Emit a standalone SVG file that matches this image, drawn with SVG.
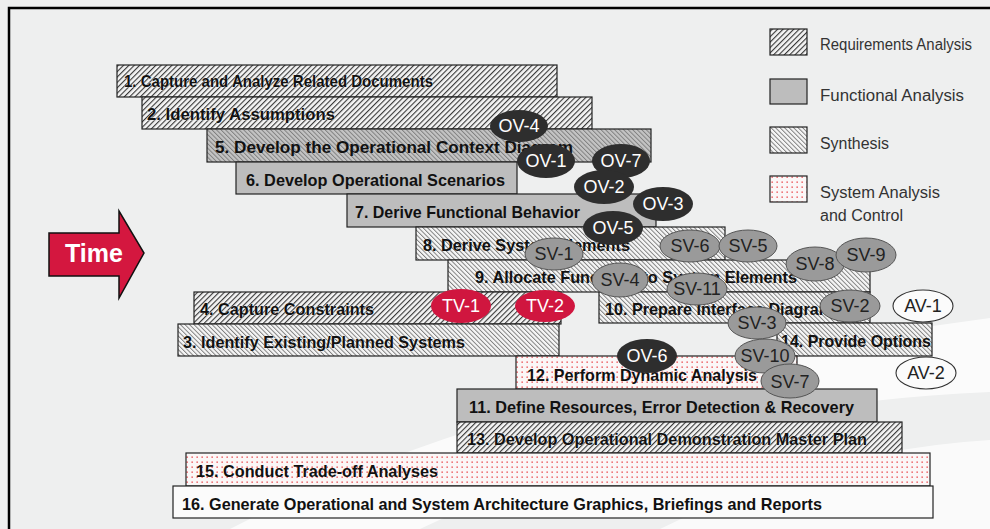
<svg xmlns="http://www.w3.org/2000/svg" width="990" height="529" viewBox="0 0 990 529">
  <defs>
    <!-- Requirements Analysis: dense forward hatch -->
    <pattern id="reqHatch" width="3.8" height="3.8" patternUnits="userSpaceOnUse" patternTransform="rotate(45)">
      <rect width="3.8" height="3.8" fill="#f4f4f4"/>
      <line x1="0.6" y1="0" x2="0.6" y2="3.8" stroke="#222" stroke-width="1"/>
    </pattern>
    <!-- Synthesis: light back hatch -->
    <pattern id="synHatch" width="3.2" height="3.2" patternUnits="userSpaceOnUse" patternTransform="rotate(-45)">
      <rect width="3.2" height="3.2" fill="#f6f6f6"/>
      <line x1="0.5" y1="0" x2="0.5" y2="3.2" stroke="#707070" stroke-width="0.85"/>
    </pattern>
    <!-- Synthesis hatch on a grey ground -->
    <pattern id="synGrey" width="3.2" height="3.2" patternUnits="userSpaceOnUse" patternTransform="rotate(-45)">
      <rect width="3.2" height="3.2" fill="#c4c4c4"/>
      <line x1="0.5" y1="0" x2="0.5" y2="3.2" stroke="#7a7a7a" stroke-width="0.9"/>
    </pattern>
    <!-- System Analysis and Control: red dots -->
    <pattern id="redDots" width="5" height="5" patternUnits="userSpaceOnUse">
      <rect width="5" height="5" fill="#fbf7f7"/>
      <rect x="1.5" y="1.5" width="1.3" height="1.3" fill="#e8343a"/>
    </pattern>
  </defs>

  <style>
    .bar { stroke: #222; stroke-width: 1.2; }
    .req { fill: url(#reqHatch); }
    .syn { fill: url(#synHatch); }
    .synG { fill: url(#synGrey); }
    .fun { fill: #bdbdbd; }
    .sac { fill: url(#redDots); }
    .plain { fill: #fbfbfb; }
    .lbl { font-family: "Liberation Sans", Arial, sans-serif; font-weight: bold; font-size: 17px; fill: #111; }
    .reqlbl { stroke: #f4f4f4; stroke-width: 0.6; paint-order: stroke; }
    .ov { fill: #2e2e2e; }
    .sv { fill: #9a9a9a; stroke: #555; stroke-width: 1; }
    .tv { fill: #d0163f; }
    .av { fill: #fbfbfb; stroke: #333; stroke-width: 1.1; }
    .et { font-family: "Liberation Sans", Arial, sans-serif; font-size: 18px; text-anchor: middle; }
    .etw { fill: #ffffff; }
    .etd { fill: #222; }
    .leg { font-family: "Liberation Sans", Arial, sans-serif; font-size: 16px; fill: #333; }
  </style>

  <!-- background with soft white sweeps -->
  <rect width="990" height="529" fill="#eeefef"/>
  <path d="M 230 529 Q 520 380 990 318 L 990 392 Q 680 405 420 529 Z" fill="#ffffff" opacity="0.75"/>
  <path d="M 660 529 Q 820 450 990 440 L 990 529 Z" fill="#ffffff" opacity="0.7"/>
  <path d="M 9 529 V 8 H 990" fill="none" stroke="#000" stroke-width="2.5"/>

  <!-- legend -->
  <g id="legend">
    <rect x="770" y="29" width="37" height="26" class="bar req"/>
    <text x="820" y="50" class="leg" textLength="152" lengthAdjust="spacingAndGlyphs">Requirements Analysis</text>
    <rect x="770" y="79" width="37" height="25" class="bar fun"/>
    <text x="820" y="101" class="leg" textLength="144" lengthAdjust="spacingAndGlyphs">Functional  Analysis</text>
    <rect x="770" y="127" width="37" height="26" class="bar syn"/>
    <text x="820" y="149" class="leg" textLength="69" lengthAdjust="spacingAndGlyphs">Synthesis</text>
    <rect x="770" y="176" width="37" height="26" class="bar sac"/>
    <text x="820" y="198" class="leg" textLength="120" lengthAdjust="spacingAndGlyphs">System Analysis</text>
    <text x="820" y="221" class="leg" textLength="83" lengthAdjust="spacingAndGlyphs">and Control</text>
  </g>

  <!-- time arrow -->
  <g id="time">
    <path d="M 49 233 H 119 V 211 L 144 253 L 119 298 V 276 H 49 Z" fill="#d4173f" stroke="#111" stroke-width="1.5"/>
    <text x="94" y="262" text-anchor="middle" font-family="Liberation Sans, Arial, sans-serif" font-weight="bold" font-size="25" fill="#fff">Time</text>
  </g>

  <!-- activity bars -->
  <g id="bar1">
    <rect x="117" y="65" width="440" height="32" class="bar req"/>
    <text x="124" y="87" class="lbl reqlbl" textLength="309" lengthAdjust="spacingAndGlyphs">1. Capture and Analyze Related Documents</text>
  </g>
  <g id="bar2">
    <rect x="142" y="97" width="450" height="32" class="bar req"/>
    <text x="147" y="120" class="lbl reqlbl" textLength="188" lengthAdjust="spacingAndGlyphs">2. Identify Assumptions</text>
  </g>
  <g id="bar5">
    <rect x="207" y="129" width="444" height="33" class="bar synG"/>
    <text x="215" y="153" class="lbl" textLength="358" lengthAdjust="spacingAndGlyphs">5. Develop the Operational Context Diagram</text>
  </g>
  <g id="bar6">
    <rect x="236" y="162" width="281" height="32" class="bar fun"/>
    <text x="246" y="186" class="lbl" textLength="259" lengthAdjust="spacingAndGlyphs">6. Develop Operational Scenarios</text>
  </g>
  <g id="bar7">
    <rect x="347" y="194" width="309" height="33" class="bar fun"/>
    <text x="355" y="218" class="lbl" textLength="225" lengthAdjust="spacingAndGlyphs">7. Derive Functional Behavior</text>
  </g>
  <g id="bar8">
    <rect x="416" y="227" width="309" height="33" class="bar syn"/>
    <text x="423" y="251" class="lbl" textLength="207" lengthAdjust="spacingAndGlyphs">8. Derive System Elements</text>
  </g>
  <g id="bar9">
    <rect x="448" y="260" width="422" height="32" class="bar syn"/>
    <text x="475" y="283" class="lbl" textLength="322" lengthAdjust="spacingAndGlyphs">9. Allocate Functions to System Elements</text>
  </g>
  <g id="bar4">
    <rect x="194" y="292" width="367" height="32" class="bar req"/>
    <text x="200" y="315" class="lbl reqlbl" textLength="174" lengthAdjust="spacingAndGlyphs">4. Capture Constraints</text>
  </g>
  <g id="bar10">
    <rect x="599" y="292" width="271" height="31" class="bar syn"/>
    <text x="605" y="315" class="lbl" textLength="237" lengthAdjust="spacingAndGlyphs">10. Prepare Interface Diagrams</text>
  </g>
  <g id="bar3">
    <rect x="178" y="324" width="381" height="32" class="bar syn"/>
    <text x="183" y="348" class="lbl reqlbl" textLength="282" lengthAdjust="spacingAndGlyphs">3. Identify Existing/Planned Systems</text>
  </g>
  <g id="bar14">
    <rect x="777" y="323" width="155" height="33" class="bar syn"/>
    <text x="781" y="347" class="lbl" textLength="150" lengthAdjust="spacingAndGlyphs">14. Provide Options</text>
  </g>
  <g id="bar12">
    <rect x="516" y="356" width="281" height="33" class="bar sac"/>
    <text x="527" y="381" class="lbl" textLength="230" lengthAdjust="spacingAndGlyphs">12. Perform Dynamic Analysis</text>
  </g>
  <g id="bar11">
    <rect x="457" y="389" width="420" height="33" class="bar fun"/>
    <text x="469" y="413" class="lbl" textLength="385" lengthAdjust="spacingAndGlyphs">11. Define Resources, Error Detection &amp; Recovery</text>
  </g>
  <g id="bar13">
    <rect x="457" y="422" width="445" height="31" class="bar req"/>
    <text x="467" y="445" class="lbl reqlbl" textLength="400" lengthAdjust="spacingAndGlyphs">13. Develop Operational Demonstration Master Plan</text>
  </g>
  <g id="bar15">
    <rect x="186" y="453" width="744" height="33" class="bar sac"/>
    <text x="196" y="477" class="lbl" textLength="242" lengthAdjust="spacingAndGlyphs">15. Conduct Trade-off Analyses</text>
  </g>
  <g id="bar16">
    <rect x="173" y="486" width="760" height="32" class="bar plain"/>
    <text x="182" y="510" class="lbl" textLength="640" lengthAdjust="spacingAndGlyphs">16. Generate Operational and System Architecture Graphics, Briefings and Reports</text>
  </g>

  <!-- architecture view markers -->
  <g id="OV-4"><ellipse cx="519" cy="126" rx="29" ry="16" class="ov"/><text x="519" y="132" class="et etw">OV-4</text></g>
  <g id="OV-1"><ellipse cx="546" cy="161" rx="29" ry="17" class="ov"/><text x="546" y="167" class="et etw">OV-1</text></g>
  <g id="OV-7"><ellipse cx="621" cy="161" rx="29" ry="17" class="ov"/><text x="621" y="167" class="et etw">OV-7</text></g>
  <g id="OV-2"><ellipse cx="604" cy="187" rx="30" ry="17" class="ov"/><text x="604" y="193" class="et etw">OV-2</text></g>
  <g id="OV-3"><ellipse cx="663" cy="204" rx="30" ry="17" class="ov"/><text x="663" y="210" class="et etw">OV-3</text></g>
  <g id="OV-5"><ellipse cx="613" cy="228" rx="30" ry="17" class="ov"/><text x="613" y="234" class="et etw">OV-5</text></g>

  <g id="SV-1"><ellipse cx="554" cy="254" rx="29" ry="16" class="sv"/><text x="554" y="260" class="et etd">SV-1</text></g>
  <g id="SV-6"><ellipse cx="690" cy="246" rx="30" ry="16" class="sv"/><text x="690" y="252" class="et etd">SV-6</text></g>
  <g id="SV-5"><ellipse cx="748" cy="246" rx="29" ry="16" class="sv"/><text x="748" y="252" class="et etd">SV-5</text></g>
  <g id="SV-8"><ellipse cx="815" cy="264" rx="29" ry="17" class="sv"/><text x="815" y="270" class="et etd">SV-8</text></g>
  <g id="SV-9"><ellipse cx="866" cy="255" rx="30" ry="17" class="sv"/><text x="866" y="261" class="et etd">SV-9</text></g>
  <g id="SV-4"><ellipse cx="620" cy="280" rx="28" ry="17" class="sv"/><text x="620" y="286" class="et etd">SV-4</text></g>
  <g id="SV-11"><ellipse cx="697" cy="289" rx="30" ry="16" class="sv"/><text x="697" y="295" class="et etd">SV-11</text></g>
  <g id="SV-2"><ellipse cx="850" cy="306" rx="30" ry="16" class="sv"/><text x="850" y="312" class="et etd">SV-2</text></g>
  <g id="SV-3"><ellipse cx="757" cy="323" rx="29" ry="16" class="sv"/><text x="757" y="329" class="et etd">SV-3</text></g>
  <g id="SV-10"><ellipse cx="765" cy="356" rx="30" ry="17" class="sv"/><text x="765" y="362" class="et etd">SV-10</text></g>
  <g id="SV-7"><ellipse cx="790" cy="381" rx="29" ry="17" class="sv"/><text x="790" y="388" class="et etd">SV-7</text></g>

  <g id="AV-1"><ellipse cx="923" cy="306" rx="30" ry="16" class="av"/><text x="923" y="312" class="et etd">AV-1</text></g>
  <g id="AV-2"><ellipse cx="926" cy="373" rx="30" ry="16" class="av"/><text x="926" y="379" class="et etd">AV-2</text></g>

  <g id="TV-1"><ellipse cx="461" cy="306" rx="30" ry="17" class="tv"/><text x="461" y="312" class="et etw">TV-1</text></g>
  <g id="TV-2"><ellipse cx="545" cy="306" rx="30" ry="16" class="tv"/><text x="545" y="312" class="et etw">TV-2</text></g>

  <g id="OV-6"><ellipse cx="647" cy="356" rx="30" ry="17" class="ov"/><text x="647" y="362" class="et etw">OV-6</text></g>

  <g id="connectors"/>
</svg>
